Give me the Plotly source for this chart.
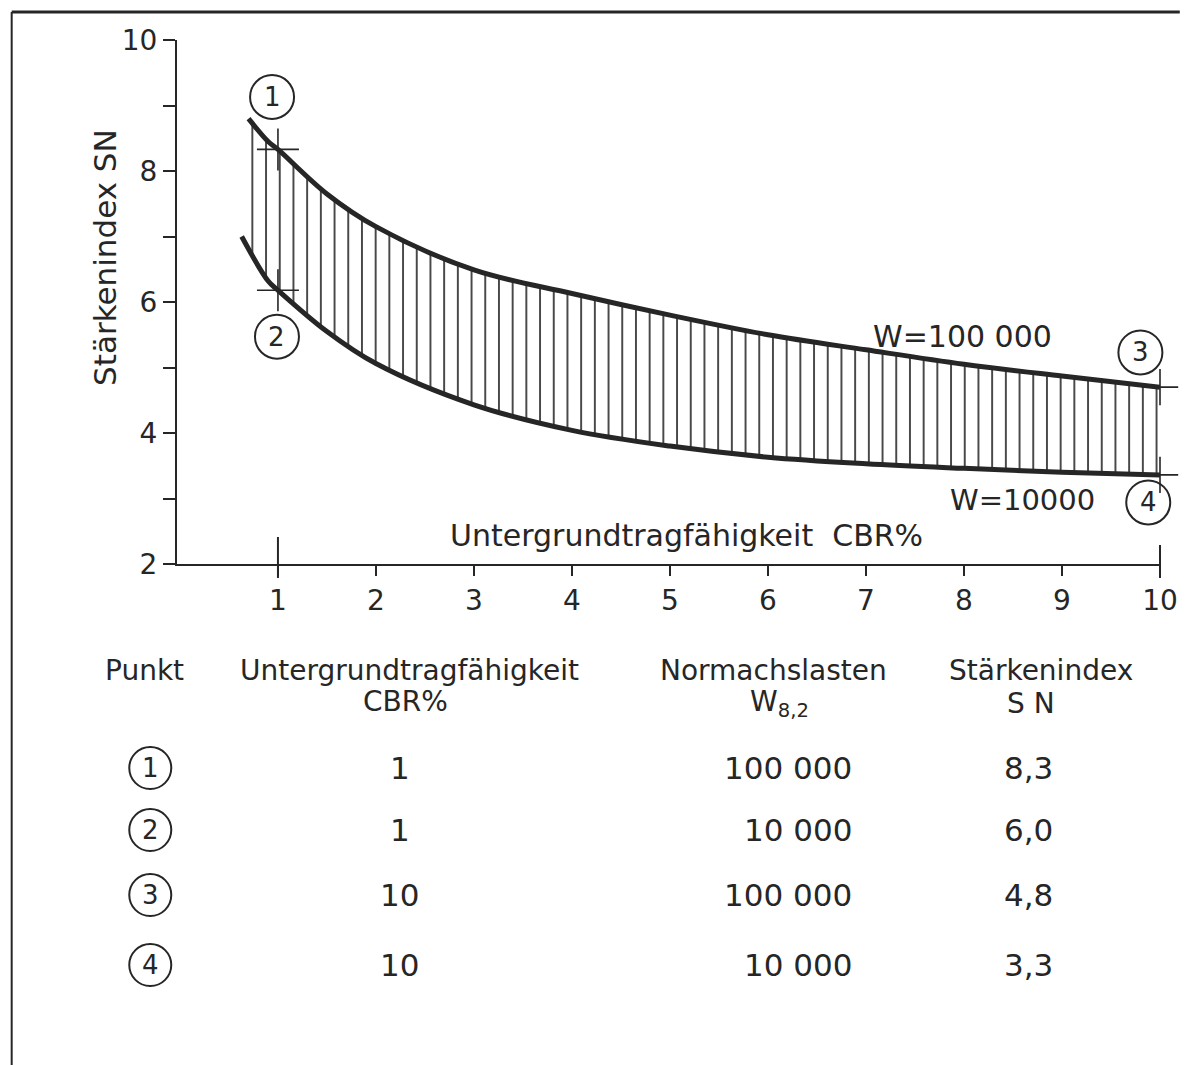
import plotly.graph_objects as go

# ---------------- data ----------------
cbr_upper = [0.7, 0.9, 1.0, 1.5, 2, 3, 4, 5, 6, 7, 8, 9, 10]
sn_upper = [8.8, 8.45, 8.33, 7.65, 7.15, 6.49, 6.13, 5.8, 5.5, 5.27, 5.05, 4.87, 4.7]
cbr_lower = [0.63, 0.9, 1.0, 1.5, 2, 3, 4, 5, 6, 7, 8, 9, 10]
sn_lower = [7.0, 6.32, 6.18, 5.55, 5.06, 4.43, 4.04, 3.8, 3.63, 3.53, 3.46, 3.4, 3.36]

x_ticks = [1, 2, 3, 4, 5, 6, 7, 8, 9, 10]
y_ticks = [2, 4, 6, 8, 10]

punkt = ["1", "2", "3", "4"]
table_cbr = ["1", "1", "10", "10"]
table_w = ["100 000", "10 000", "100 000", "10 000"]
table_sn = ["8,3", "6,0", "4,8", "3,3"]
curve_names = ["W=100 000", "W=10000"]

# ---------------- geometry helpers ----------------
W, H = 1190, 1065
PL, PR, PT, PB = 177, 1170, 40, 564   # plot area in page pixels
XMIN, XMAX, YMIN, YMAX = -0.03, 10, 2, 10
INK = "#262626"
FONT = "DejaVu Sans"


def px(x):
    return (x - PL) / (PR - PL)


def py(y):
    return (PB - y) / (PB - PT)


def dxp(v):
    return (v - XMIN) / (XMAX - XMIN)


def dyp(v):
    return (v - YMIN) / (YMAX - YMIN)


fig = go.Figure()

# upper curve
fig.add_trace(go.Scatter(x=cbr_upper, y=sn_upper, mode="lines",
                         line=dict(color=INK, width=5, shape="spline"),
                         showlegend=False, hoverinfo="skip"))
# lower curve with hatched fill to upper
fig.add_trace(go.Scatter(x=cbr_lower, y=sn_lower, mode="lines",
                         line=dict(color=INK, width=5, shape="spline"),
                         fill="tonexty", fillcolor="rgba(0,0,0,0)",
                         fillpattern=dict(shape="|", size=13.7, solidity=0.12,
                                          fgcolor=INK, bgcolor="rgba(0,0,0,0)",
                                          fillmode="replace"),
                         showlegend=False, hoverinfo="skip"))

# crosses at the four points (taken from the curves at CBR 1 and 10)
i1 = cbr_upper.index(1.0)
j1 = cbr_lower.index(1.0)
fig.add_trace(go.Scatter(
    x=[cbr_upper[i1], cbr_lower[j1]], y=[sn_upper[i1], sn_lower[j1]],
    mode="markers", cliponaxis=False,
    marker=dict(symbol="cross-thin", size=30, line=dict(color=INK, width=1.6)),
    showlegend=False, hoverinfo="skip"))
fig.add_trace(go.Scatter(
    x=[cbr_upper[-1], cbr_lower[-1]], y=[sn_upper[-1], sn_lower[-1]],
    mode="markers", cliponaxis=False,
    marker=dict(symbol="cross-thin", size=26, line=dict(color=INK, width=1.6)),
    showlegend=False, hoverinfo="skip"))

shapes = []
annotations = []

# frame lines of the scanned page
shapes.append(dict(type="line", xref="paper", yref="paper",
                   x0=px(10), x1=px(1190), y0=py(12), y1=py(12),
                   line=dict(color=INK, width=3)))
shapes.append(dict(type="line", xref="paper", yref="paper",
                   x0=px(10), x1=px(10), y0=py(12), y1=py(1065),
                   line=dict(color=INK, width=2)))

# long ticks at CBR 1 and 10
shapes.append(dict(type="line", xref="paper", yref="paper",
                   x0=dxp(x_ticks[0]), x1=dxp(x_ticks[0]), y0=py(578), y1=py(537),
                   line=dict(color=INK, width=2)))
shapes.append(dict(type="line", xref="paper", yref="paper",
                   x0=dxp(x_ticks[-1]), x1=dxp(x_ticks[-1]), y0=py(578), y1=py(545),
                   line=dict(color=INK, width=2)))


def circled(xp, yp, label, r=22, size=26):
    shapes.append(dict(type="circle", xref="paper", yref="paper",
                       xsizemode="pixel", ysizemode="pixel",
                       xanchor=xp, yanchor=yp, x0=-r, x1=r, y0=-r, y1=r,
                       line=dict(color=INK, width=2)))
    annotations.append(dict(xref="paper", yref="paper", x=xp, y=yp,
                            text=label, showarrow=False,
                            font=dict(family=FONT, size=size, color=INK),
                            xanchor="center", yanchor="middle"))


# circled point numbers on the chart
circled(dxp(0.94), dyp(9.13), punkt[0])
circled(dxp(0.99), dyp(5.47), punkt[1])
circled(dxp(9.8), dyp(5.23), punkt[2])
circled(dxp(9.88), dyp(2.94), punkt[3])

# curve labels
annotations.append(dict(x=7.98, y=5.48, xref="x", yref="y", text=curve_names[0],
                        showarrow=False, font=dict(family=FONT, size=30, color=INK)))
annotations.append(dict(x=8.6, y=2.98, xref="x", yref="y", text=curve_names[1],
                        showarrow=False, font=dict(family=FONT, size=29, color=INK)))

# axis titles
annotations.append(dict(x=5.17, y=2.44, xref="x", yref="y",
                        text="Untergrundtragfähigkeit  CBR%",
                        showarrow=False, font=dict(family=FONT, size=30, color=INK)))
annotations.append(dict(x=px(84), y=py(257), xref="paper", yref="paper",
                        text="Stärkenindex SN", textangle=-90,
                        showarrow=False, font=dict(family=FONT, size=31, color=INK)))

# ---------------- table ----------------
HF = dict(family=FONT, size=28, color=INK)
TF = dict(family=FONT, size=31, color=INK)


def txt(x, y, s, xanchor="center", font=HF):
    annotations.append(dict(xref="paper", yref="paper", x=px(x), y=py(y), text=s,
                            showarrow=False, font=font, xanchor=xanchor,
                            yanchor="middle"))


txt(144, 670, "Punkt")
txt(412, 670, "Untergrundtragfähigkeit")
txt(408, 701, "CBR%")
txt(780, 670, "Normachslasten")
txt(786, 703, "W<sub>8,2</sub>")
txt(1050, 670, "Stärkenindex")
txt(1040, 703, "S N")

row_y = [768, 830, 895, 965]
for k in range(4):
    circled(px(150), py(row_y[k]), punkt[k], r=21)
    txt(402, row_y[k], table_cbr[k], font=TF)
    txt(861, row_y[k], table_w[k], xanchor="right", font=TF)
    txt(1037, row_y[k], table_sn[k], font=TF)

fig.update_layout(
    width=W, height=H,
    margin=dict(l=PL, r=W - PR, t=PT, b=H - PB, pad=0),
    paper_bgcolor="white", plot_bgcolor="white",
    showlegend=False,
    shapes=shapes, annotations=annotations,
    font=dict(family=FONT, color=INK),
    xaxis=dict(range=[XMIN, XMAX], showline=True, linecolor=INK, linewidth=2,
               ticks="outside", ticklen=10, tickwidth=2, tickcolor=INK,
               tickvals=x_ticks, ticktext=[str(v) for v in x_ticks],
               tickfont=dict(family=FONT, size=28, color=INK),
               showgrid=False, zeroline=False, fixedrange=True),
    yaxis=dict(range=[YMIN, YMAX], showline=True, linecolor=INK, linewidth=2,
               ticks="outside", ticklen=12, tickwidth=2, tickcolor=INK,
               tickvals=y_ticks, ticktext=[str(v) for v in y_ticks],
               tickfont=dict(family=FONT, size=28, color=INK),
               minor=dict(dtick=1, tick0=2, ticks="outside", ticklen=12,
                          tickwidth=2, tickcolor=INK, showgrid=False),
               showgrid=False, zeroline=False, fixedrange=True),
)

fig.write_html("out.html", config={"displayModeBar": False},
               post_script="document.body.style.margin='0';"
                           "document.body.style.overflow='hidden';")
